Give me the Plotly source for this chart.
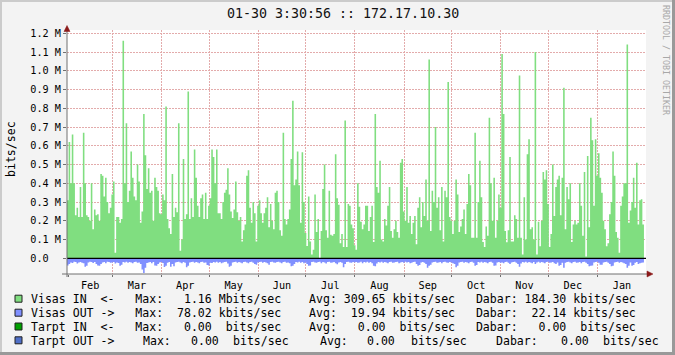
import plotly.graph_objects as go
import pandas as pd

# ---------------- data (Mbit/s, one value per day) ----------------
in_q1 = [0.31, 0.62, 0.40, 0.66, 0.40, 0.23, 0.27, 0.22, 0.38, 0.22,
         0.67, 0.40, 0.23, 0.22, 0.20, 0.40, 0.155, 0.26, 0.23, 0.235,
         0.20, 0.45, 0.44, 0.33, 0.43, 0.30, 0.24, 0.27, 0.34, 0.41,
         0.03, 0.22, 0.22, 0.19, 0.21, 1.16, 0.40, 0.72, 0.30, 0.36,
         0.57, 0.43, 0.33, 0.31, 0.50, 0.41, 0.19, 0.25, 0.77, 0.55,
         0.37, 0.48, 0.35, 0.36, 0.20, 0.43, 0.38, 0.36, 0.24, 0.235,
         0.34, 0.31, 0.81, 0.21, 0.16, 0.13, 0.45, 0.22, 0.27, 0.245,
         0.72, 0.04, 0.10, 0.53, 0.21, 0.235, 0.89, 0.21, 0.32, 0.22,
         0.58, 0.43, 0.28, 0.22, 0.32, 0.34, 0.21, 0.35, 0.21, 0.28,
         0.32]
in_q2 = [0.58, 0.54, 0.40, 0.58, 0.24, 0.24, 0.21, 0.30, 0.35, 0.365,
         0.48, 0.34, 0.25, 0.215, 0.26, 0.41, 0.245, 0.20, 0.22, 0.09,
         0.15, 0.18, 0.44, 0.47, 0.27, 0.19, 0.30, 0.24, 0.09, 0.28,
         0.31, 0.24, 0.19, 0.24, 0.27, 0.325, 0.165, 0.29, 0.20, 0.155,
         0.35, 0.36, 0.30, 0.15, 0.12, 0.67, 0.21, 0.18, 0.21, 0.26,
         0.53, 0.84, 0.39, 0.42, 0.57, 0.39, 0.19, 0.565, 0.30, 0.135,
         0.066, 0.33, 0.09, 0.02, 0.045, 0.34, 0.14, 0.21, 0.0, 0.145,
         0.37, 0.50, 0.15, 0.11, 0.36, 0.125, 0.12, 0.13, 0.555, 0.32,
         0.285, 0.08, 0.13, 0.06, 0.735, 0.06, 0.29, 0.28, 0.18, 0.16,
         0.07]
in_q3 = [0.045, 0.40, 0.275, 0.195, 0.155, 0.18, 0.28, 0.28, 0.145, 0.22,
         0.28, 0.087, 0.77, 0.38, 0.35, 0.52, 0.10, 0.09, 0.21, 0.175,
         0.28, 0.38, 0.145, 0.11, 0.155, 0.20, 0.14, 0.11, 0.51, 0.53,
         0.25, 0.20, 0.38, 0.19, 0.225, 0.13, 0.19, 0.225, 0.075, 0.27,
         0.325, 0.165, 0.30, 0.225, 0.42, 0.20, 1.06, 0.145, 0.36, 0.30,
         0.70, 0.27, 0.325, 0.15, 0.38, 0.09, 0.36, 0.325, 0.94, 0.22,
         0.20, 0.13, 0.20, 0.42, 0.34, 0.14, 0.17, 0.21, 0.26, 0.13,
         0.29, 0.45, 0.39, 0.11, 0.11, 0.67, 0.11, 0.30, 0.52, 0.325,
         0.087, 0.06, 0.17, 0.12, 0.75, 0.40, 0.20, 0.43, 0.11, 0.20,
         0.34, 0.27]
in_q4 = [1.09, 0.77, 0.145, 0.085, 0.15, 0.54, 0.09, 0.09, 0.23, 0.21,
         0.11, 0.975, 0.11, 0.02, 0.325, 0.10, 0.555, 0.635, 0.155, 0.165,
         0.10, 1.10, 0.02, 0.195, 0.064, 0.20, 0.46, 0.42, 0.47, 0.29,
         0.06, 0.13, 0.50, 0.225, 0.38, 0.42, 0.44, 0.23, 0.43, 0.91,
         0.155, 0.38, 0.315, 0.40, 0.087, 0.18, 0.20, 0.18, 0.19, 0.40,
         0.28, 0.12, 0.46, 0.01, 0.545, 0.165, 0.75, 0.63, 0.28, 0.635,
         0.44, 0.56, 0.43, 0.35, 0.20, 0.155, 0.064, 0.08, 0.235, 0.30,
         0.57, 0.44, 0.14, 0.11, 0.03, 0.28, 0.33, 0.40, 0.40, 1.14,
         0.19, 0.255, 0.30, 0.43, 0.27, 0.51, 0.18, 0.31, 0.315, 0.18]

out_q1 = [0.038, 0.030, 0.022, 0.025, 0.018, 0.020, 0.028, 0.022, 0.020, 0.024,
          0.026, 0.045, 0.040, 0.022, 0.018, 0.020, 0.025, 0.020, 0.030, 0.038,
          0.040, 0.030, 0.022, 0.020, 0.026, 0.018, 0.020, 0.024, 0.022, 0.020,
          0.028, 0.022, 0.025, 0.040, 0.035, 0.020, 0.022, 0.018, 0.024, 0.020,
          0.022, 0.026, 0.020, 0.018, 0.024, 0.022, 0.030, 0.060, 0.078, 0.050,
          0.025, 0.022, 0.020, 0.026, 0.020, 0.038, 0.040, 0.030, 0.022, 0.020,
          0.025, 0.046, 0.040, 0.024, 0.020, 0.045, 0.030, 0.042, 0.022, 0.020,
          0.018, 0.022, 0.026, 0.020, 0.024, 0.048, 0.040, 0.022, 0.020, 0.018,
          0.024, 0.020, 0.022, 0.026, 0.020, 0.018, 0.024, 0.022, 0.036, 0.038,
          0.024]
out_q2 = [0.025, 0.020, 0.022, 0.018, 0.024, 0.020, 0.026, 0.022, 0.020, 0.018,
          0.028, 0.045, 0.040, 0.022, 0.020, 0.018, 0.024, 0.020, 0.022, 0.026,
          0.020, 0.018, 0.022, 0.026, 0.020, 0.018, 0.024, 0.030, 0.035, 0.022,
          0.020, 0.018, 0.024, 0.020, 0.022, 0.026, 0.035, 0.020, 0.018, 0.022,
          0.024, 0.020, 0.018, 0.022, 0.026, 0.020, 0.018, 0.024, 0.022, 0.026,
          0.042, 0.040, 0.030, 0.020, 0.022, 0.018, 0.024, 0.020, 0.026, 0.022,
          0.030, 0.040, 0.038, 0.020, 0.018, 0.022, 0.024, 0.020, 0.018, 0.026,
          0.020, 0.022, 0.028, 0.020, 0.018, 0.024, 0.022, 0.020, 0.026, 0.032,
          0.022, 0.020, 0.024, 0.048, 0.030, 0.020, 0.018, 0.022, 0.024, 0.020,
          0.022]
out_q3 = [0.020, 0.024, 0.022, 0.018, 0.026, 0.020, 0.022, 0.018, 0.024, 0.020,
          0.026, 0.040, 0.043, 0.028, 0.020, 0.022, 0.018, 0.024, 0.020, 0.022,
          0.026, 0.020, 0.018, 0.024, 0.022, 0.020, 0.018, 0.026, 0.022, 0.020,
          0.024, 0.018, 0.022, 0.020, 0.026, 0.024, 0.020, 0.018, 0.030, 0.040,
          0.036, 0.022, 0.020, 0.024, 0.030, 0.050, 0.040, 0.035, 0.022, 0.020,
          0.018, 0.024, 0.022, 0.020, 0.026, 0.020, 0.018, 0.022, 0.024, 0.020,
          0.022, 0.026, 0.030, 0.048, 0.040, 0.022, 0.020, 0.018, 0.024, 0.020,
          0.022, 0.026, 0.020, 0.018, 0.024, 0.040, 0.036, 0.020, 0.022, 0.018,
          0.024, 0.020, 0.022, 0.026, 0.020, 0.018, 0.024, 0.040, 0.038, 0.022,
          0.020, 0.024]
out_q4 = [0.022, 0.026, 0.020, 0.018, 0.024, 0.030, 0.022, 0.020, 0.018, 0.024,
          0.030, 0.045, 0.028, 0.020, 0.022, 0.018, 0.024, 0.020, 0.022, 0.026,
          0.020, 0.030, 0.022, 0.018, 0.024, 0.020, 0.022, 0.026, 0.020, 0.018,
          0.024, 0.022, 0.020, 0.026, 0.030, 0.022, 0.040, 0.036, 0.024, 0.050,
          0.024, 0.020, 0.018, 0.022, 0.026, 0.020, 0.018, 0.024, 0.022, 0.020,
          0.026, 0.020, 0.018, 0.024, 0.030, 0.042, 0.040, 0.038, 0.022, 0.020,
          0.018, 0.024, 0.035, 0.034, 0.022, 0.020, 0.018, 0.024, 0.030, 0.042,
          0.040, 0.022, 0.020, 0.018, 0.024, 0.020, 0.022, 0.026, 0.030, 0.050,
          0.040, 0.022, 0.040, 0.036, 0.024, 0.020, 0.030, 0.026, 0.024, 0.022]

visas_in = in_q1 + in_q2 + in_q3 + in_q4
visas_out = out_q1 + out_q2 + out_q3 + out_q4

start_time = "2010-01-31 09:00"
x_range = ["2010-01-31 08:52", "2011-01-31 16:05"]

y_tickvals = [0.0, 0.1, 0.2, 0.3, 0.4, 0.5, 0.6, 0.7, 0.8, 0.9, 1.0, 1.1, 1.2]
y_ticktext = ["0.0\u00a0\u00a0", "0.1 M", "0.2 M", "0.3 M", "0.4 M", "0.5 M", "0.6 M",
              "0.7 M", "0.8 M", "0.9 M", "1.0 M", "1.1 M", "1.2 M"]
y_range = [-0.0837, 1.2176]

title_text = "01-30 3:30:56 :: 172.17.10.30"
legend_names = ["Visas IN  <-", "Visas OUT ->", "Tarpt IN  <-", "Tarpt OUT ->"]
legend_max = [("1.16", "M"), ("78.02", "k"), ("0.00", " "), ("0.00", " ")]
legend_avg = [("309.65", "k"), ("19.94", "k"), ("0.00", " "), ("0.00", " ")]
legend_cur = [("184.30", "k"), ("22.14", "k"), ("0.00", " "), ("0.00", " ")]

# ---------------- styles ----------------
GREEN = "#80DE80"
BLUE = "#8090FF"
LEG_COLORS = [GREEN, BLUE, "#00A000", "#5070C8"]
GRID = "#E3ABAB"
BACK = "#F3F3F3"
AXIS = "#707070"
ARROW = "#8B1A1A"
MONO = "DejaVu Sans Mono"

W, H = 675, 355
L, R, T, B = 67, 646, 30, 274
PW, PH = R - L, B - T


def px(x):
    return (x - L) / PW


def py(y):
    return (B - y) / PH


def nb(s):
    return s.replace(" ", "\u00a0")


n = len(visas_in)
dates = pd.date_range(start_time, periods=n + 1, freq="D")
in_step = visas_in + [visas_in[-1]]
out_step = [-v for v in visas_out] + [-visas_out[-1]]

fig = go.Figure()
fig.add_trace(go.Scatter(x=dates, y=in_step, mode="lines", line=dict(width=0, shape="hv"),
                         fill="tozeroy", fillcolor=GREEN, hoverinfo="skip", showlegend=False))
fig.add_trace(go.Scatter(x=dates, y=out_step, mode="lines", line=dict(width=0, shape="hv"),
                         fill="tozeroy", fillcolor=BLUE, hoverinfo="skip", showlegend=False))

shapes = []
# zero line
shapes.append(dict(type="line", xref="paper", yref="y", x0=0, x1=1, y0=0, y1=0,
                   line=dict(color="#000000", width=1.2), layer="above"))
# axes
shapes.append(dict(type="line", xref="paper", yref="paper", x0=px(67), x1=px(67),
                   y0=py(277), y1=py(30), line=dict(color=AXIS, width=1), layer="above"))
shapes.append(dict(type="line", xref="paper", yref="paper", x0=px(62), x1=px(648),
                   y0=py(274), y1=py(274), line=dict(color=AXIS, width=1), layer="above"))
# arrows
shapes.append(dict(type="path", xref="paper", yref="paper",
                   path=f"M {px(67)},{py(25.5)} L {px(64)},{py(31.5)} L {px(70)},{py(31.5)} Z",
                   fillcolor=ARROW, line=dict(color=ARROW, width=0.5), layer="above"))
shapes.append(dict(type="path", xref="paper", yref="paper",
                   path=f"M {px(653)},{py(274)} L {px(647)},{py(271)} L {px(647)},{py(277)} Z",
                   fillcolor=ARROW, line=dict(color=ARROW, width=0.5), layer="above"))
# image border shading
shapes.append(dict(type="rect", xref="paper", yref="paper", x0=px(0), x1=px(W), y0=py(0), y1=py(2),
                   fillcolor="#CBCBCB", line=dict(width=0)))
shapes.append(dict(type="rect", xref="paper", yref="paper", x0=px(0), x1=px(2), y0=py(0), y1=py(H),
                   fillcolor="#CBCBCB", line=dict(width=0)))
shapes.append(dict(type="rect", xref="paper", yref="paper", x0=px(0), x1=px(W), y0=py(H - 3), y1=py(H),
                   fillcolor="#999999", line=dict(width=0)))
shapes.append(dict(type="rect", xref="paper", yref="paper", x0=px(W - 3), x1=px(W), y0=py(0), y1=py(H),
                   fillcolor="#999999", line=dict(width=0)))

annotations = []
annotations.append(dict(xref="paper", yref="paper", x=px(342.5), y=py(14), text=title_text,
                        showarrow=False, xanchor="center", yanchor="middle",
                        font=dict(family=MONO, size=13.3, color="#111111"), borderpad=0, borderwidth=0))
annotations.append(dict(xref="paper", yref="paper", x=px(666), y=py(60), text="RRDTOOL / TOBI OETIKER",
                        showarrow=False, xanchor="center", yanchor="middle", textangle=90,
                        font=dict(family=MONO, size=8.3, color="#A8A8A8"), borderpad=0, borderwidth=0))
annotations.append(dict(xref="paper", yref="paper", x=px(11), y=py(149), text="bits/sec",
                        showarrow=False, xanchor="center", yanchor="middle", textangle=-90,
                        font=dict(family=MONO, size=11.56, color="#000000"), borderpad=0, borderwidth=0))

row_y = [299, 313, 327, 341]
box_y = [298.7, 312.7, 326.5, 340.3]
LEG_FONT = dict(family=MONO, size=11.56, color="#000000")
for i in range(4):
    shapes.append(dict(type="rect", xref="paper", yref="paper", x0=px(15), x1=px(22),
                       y0=py(box_y[i] + 3.5), y1=py(box_y[i] - 3.5),
                       fillcolor=LEG_COLORS[i], line=dict(color="#202020", width=1)))
    mx, mu = legend_max[i]
    av, au = legend_avg[i]
    cu, cuu = legend_cur[i]
    if i < 3:
        txt = (f"{legend_names[i]}   Max: {mx:>6} {mu}bits/sec    Avg: {av:>6} {au}bits/sec"
               f"   Dabar: {cu:>6} {cuu}bits/sec")
        annotations.append(dict(xref="paper", yref="paper", x=px(31), y=py(row_y[i]), text=nb(txt),
                                showarrow=False, xanchor="left", yanchor="middle",
                                font=LEG_FONT, borderpad=0, borderwidth=0))
    else:
        chunks = [(legend_names[i], 31), ("Max:", 143), (mx, 191), ("bits/sec", 233),
                  ("Avg:", 320), (av, 367), ("bits/sec", 411),
                  ("Dabar:", 496), (cu, 561), ("bits/sec", 602.5)]
        for t, xp in chunks:
            annotations.append(dict(xref="paper", yref="paper", x=px(xp), y=py(row_y[i]), text=nb(t),
                                    showarrow=False, xanchor="left", yanchor="middle",
                                    font=LEG_FONT, borderpad=0, borderwidth=0))

fig.update_layout(
    width=W, height=H, autosize=False,
    margin=dict(l=L, r=W - R, t=T, b=H - B, pad=0),
    paper_bgcolor=BACK, plot_bgcolor="#FFFFFF",
    showlegend=False,
    shapes=shapes, annotations=annotations,
    xaxis=dict(type="date", range=x_range, tick0="2010-02-01", dtick="M1", tickformat="%b",
               ticklabelmode="period", showgrid=True, gridcolor=GRID, griddash="2px,1px", gridwidth=1,
               ticks="outside", ticklen=2, tickcolor=AXIS, showline=False, zeroline=False,
               tickfont=dict(family=MONO, size=10.2, color="#000000")),
    yaxis=dict(range=y_range, tickvals=y_tickvals, ticktext=y_ticktext, showgrid=True,
               gridcolor=GRID, griddash="2px,1px", gridwidth=1, zeroline=False, showline=False,
               ticks="outside", ticklen=3, tickcolor=AXIS,
               tickfont=dict(family=MONO, size=10.2, color="#000000")),
)

fig.write_html("out.html")
